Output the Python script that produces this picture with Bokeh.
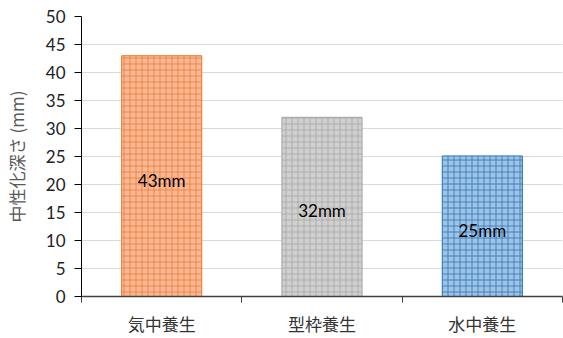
from bokeh.plotting import figure
from bokeh.models import FixedTicker, Range1d, ColumnDataSource
from bokeh.core.properties import value
from bokeh.embed import file_html
from bokeh.resources import INLINE

categories = ["気中養生", "型枠養生", "水中養生"]
depths = [43, 32, 25.1]
labels = ["43mm", "32mm", "25mm"]
fill_colors = ["#F8B898", "#D0D0D0", "#9DC3E6"]
hatch_colors = ["#ED7D31", "#A5A5A5", "#2E75B6"]
y_ticks = [0, 5, 10, 15, 20, 25, 30, 35, 40, 45, 50]

xs = [i + 0.5 for i in range(len(categories))]
src = ColumnDataSource(dict(x=xs, top=depths, mid=[d / 2 for d in depths],
                            lab=labels, fc=fill_colors, hc=hatch_colors))

p = figure(width=563, height=338, output_backend="svg", toolbar_location=None,
           x_range=Range1d(0, 3), y_range=Range1d(0, 50),
           min_border_left=79, min_border_right=1, min_border_top=16, min_border_bottom=41)
p.outline_line_color = None

p.vbar(x="x", top="top", width=0.5, source=src, fill_color="fc", line_color="hc",
       line_width=1, hatch_pattern="+", hatch_color="hc", hatch_scale=6,
       hatch_weight=1, hatch_alpha=0.8)
p.text(x="x", y="mid", text="lab", source=src, text_align="center", text_baseline="middle",
       text_font=value("Lato"), text_font_size="17px", text_color="#000000",
       y_offset=4)

# y axis
p.yaxis.ticker = FixedTicker(ticks=y_ticks)
p.yaxis.axis_label = "中性化深さ (mm)"
p.yaxis.axis_label_text_font = "Noto Sans CJK JP"
p.yaxis.axis_label_text_font_style = "normal"
p.yaxis.axis_label_text_font_size = "17px"
p.yaxis.axis_label_text_color = "#595959"
p.yaxis.axis_label_standoff = 14
p.yaxis.major_label_text_font = "Lato"
p.yaxis.major_label_text_font_size = "17px"
p.yaxis.major_label_text_color = "#222222"
p.yaxis.axis_line_color = "#000000"
p.yaxis.major_tick_line_color = "#000000"
p.yaxis.major_tick_out = 7
p.yaxis.major_tick_in = 0
p.yaxis.minor_tick_line_color = None
p.yaxis.major_label_standoff = 9

# x axis
p.xaxis.ticker = FixedTicker(ticks=xs, minor_ticks=[0, 1, 2, 3])
p.xaxis.major_label_overrides = {x: c for x, c in zip(xs, categories)}
p.xaxis.major_label_text_font = "Noto Sans CJK JP"
p.xaxis.major_label_text_font_size = "17px"
p.xaxis.major_label_text_color = "#333333"
p.xaxis.major_tick_line_color = None
p.xaxis.major_tick_out = 0
p.xaxis.major_tick_in = 0
p.xaxis.minor_tick_line_color = "#404040"
p.xaxis.minor_tick_out = 6
p.xaxis.minor_tick_in = 0
p.xaxis.axis_line_color = "#404040"
p.xaxis.axis_line_width = 1.5
p.xaxis.major_label_standoff = 8

p.xgrid.grid_line_color = None
p.ygrid.grid_line_color = "#D9D9D9"
p.ygrid.grid_line_width = 1

open("out.html", "w").write(file_html(p, INLINE))
